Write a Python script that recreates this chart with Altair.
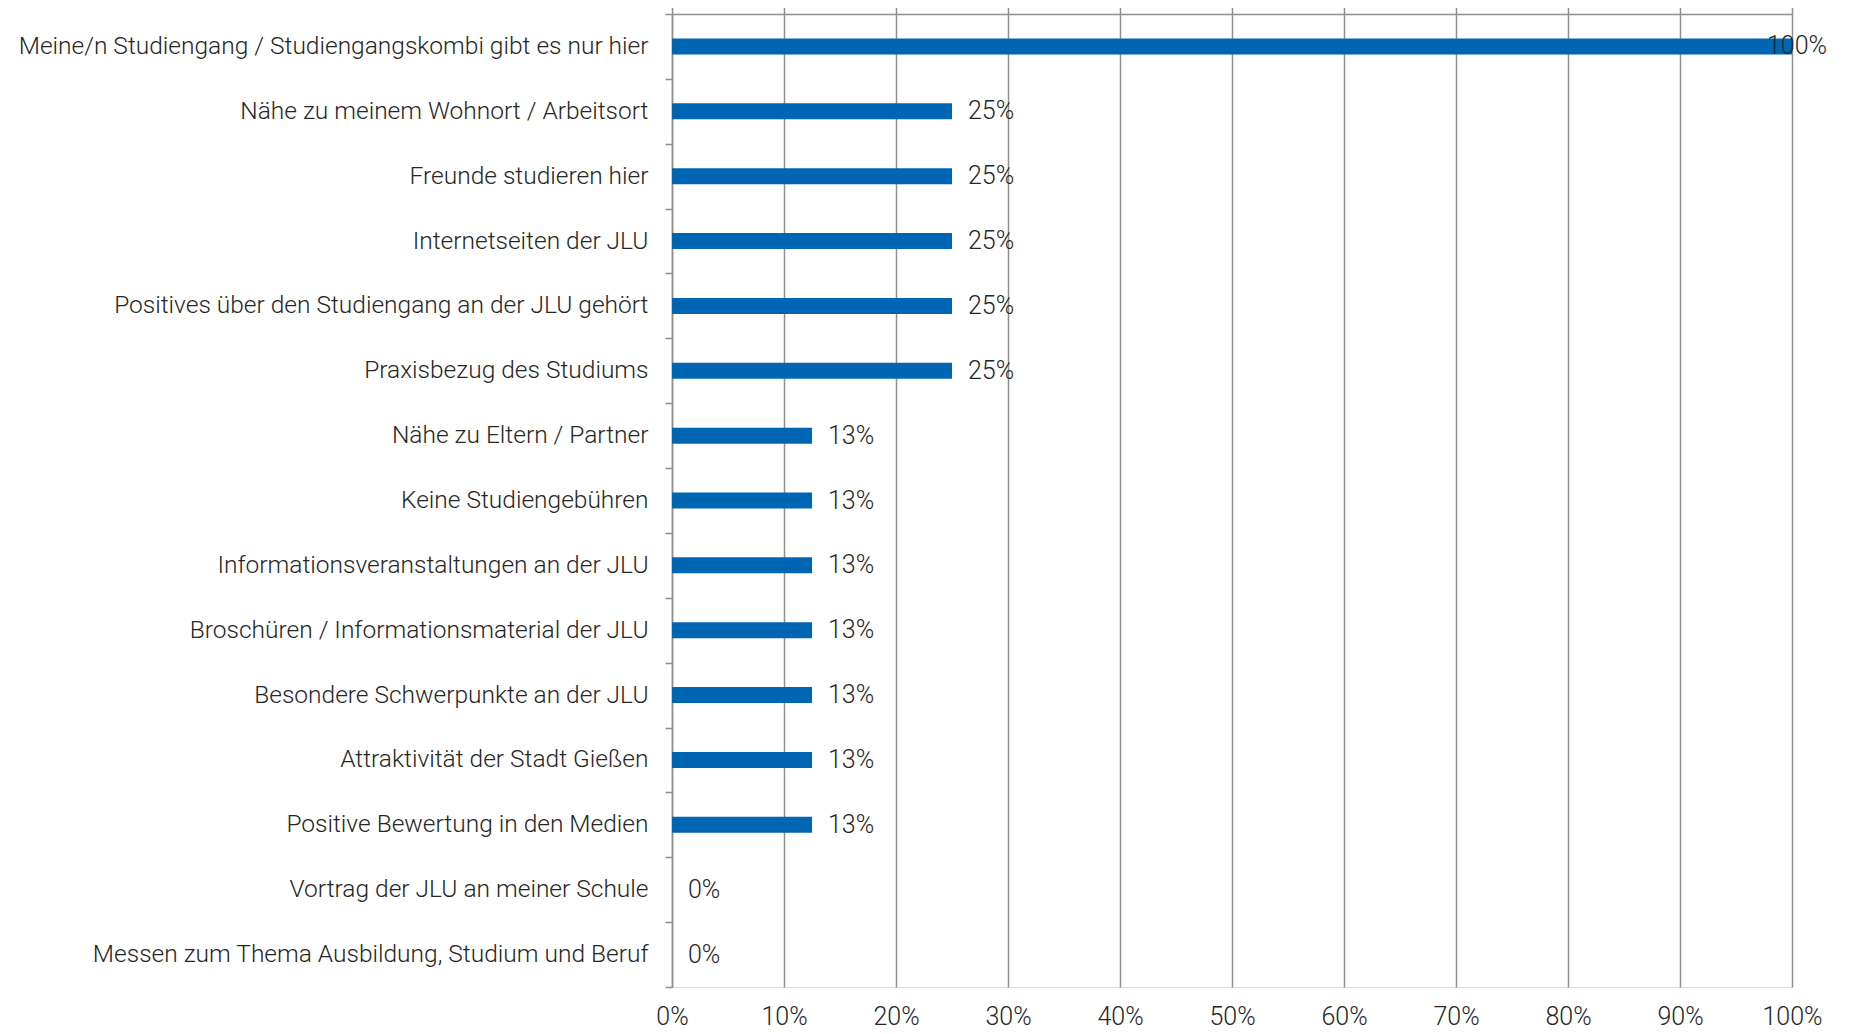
import altair as alt
import pandas as pd

categories = [
    "Meine/n Studiengang / Studiengangskombi gibt es nur hier",
    "Nähe zu meinem Wohnort / Arbeitsort\u00a0",
    "Freunde studieren hier",
    "Internetseiten der JLU",
    "Positives über den Studiengang an der JLU gehört",
    "Praxisbezug des Studiums\u00a0",
    "Nähe zu Eltern / Partner",
    "Keine Studiengebühren\u00a0",
    "Informationsveranstaltungen an der JLU",
    "Broschüren / Informationsmaterial der JLU",
    "Besondere Schwerpunkte an der JLU",
    "Attraktivität der Stadt Gießen\u00a0",
    "Positive Bewertung in den Medien\u00a0",
    "Vortrag der JLU an meiner Schule",
    "Messen zum Thema Ausbildung, Studium und Beruf",
]
values = [1.0, 0.25, 0.25, 0.25, 0.25, 0.25, 0.125, 0.125, 0.125, 0.125, 0.125, 0.125, 0.125, 0.0, 0.0]
x_ticks = [0, 0.1, 0.2, 0.3, 0.4, 0.5, 0.6, 0.7, 0.8, 0.9, 1.0]

df = pd.DataFrame({"category": categories, "value": values})

FONT = "Roboto"
TEXT_COLOR = "#262626"
GRID = "#8f8f8f"

x_enc = alt.X(
    "value:Q",
    scale=alt.Scale(domain=[0, 1], nice=False, zero=True),
    axis=alt.Axis(
        orient="top",
        title=None,
        values=x_ticks,
        format=".0%",
        labelFont=FONT,
        labelFontSize=25,
        labelFontWeight=300,
        labelColor=TEXT_COLOR,
        labelFlush=False,
        labelBaseline="alphabetic",
        labelPadding=-1017,
        labelOverlap=False,
        domain=True,
        domainColor=GRID,
        domainWidth=1.5,
        ticks=True,
        tickSize=7,
        tickColor=GRID,
        tickWidth=1.5,
        grid=True,
        gridColor=GRID,
        gridWidth=1.5,
    ),
)

y_enc = alt.Y(
    "category:N",
    sort=categories,
    scale=alt.Scale(paddingInner=0, paddingOuter=0),
    axis=alt.Axis(
        title=None,
        labelFont=FONT,
        labelFontSize=24.5,
        labelFontWeight=300,
        labelColor=TEXT_COLOR,
        labelPadding=17,
        labelLimit=1000,
        tickBand="extent",
        tickSize=7,
        tickColor=GRID,
        tickWidth=1.5,
        domainColor=GRID,
        domainWidth=1.5,
        grid=False,
    ),
)

base = alt.Chart(df).encode(x=x_enc, y=y_enc)

bars = base.mark_bar(color="#0066b3", size=16)

text_style = dict(
    align="left",
    baseline="middle",
    font=FONT,
    fontSize=25,
    fontWeight=300,
    color=TEXT_COLOR,
)

labels = base.transform_filter("datum.value < 1").mark_text(dx=16, **text_style).encode(
    text=alt.Text("value:Q", format=".0%"),
)

labels_full = base.transform_filter("datum.value >= 1").mark_text(dx=-25, **text_style).encode(
    text=alt.Text("value:Q", format=".0%"),
)

chart = (
    alt.layer(bars, labels, labels_full)
    .properties(
        width=1120,
        height=973,
        autosize=alt.AutoSizeParams(type="none"),
        padding={"left": 664, "top": 6, "right": 50, "bottom": 47},
    )
    .configure_view(stroke=None)
    .configure(background="white")
)

chart.save("out.html", embed_options={"renderer": "svg", "actions": False})
